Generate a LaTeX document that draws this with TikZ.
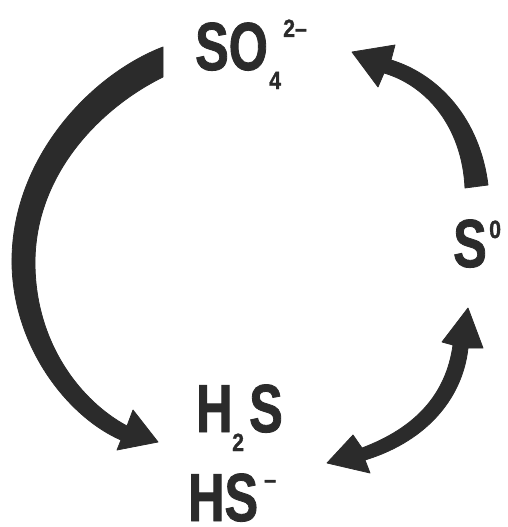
\documentclass[tikz,border=0pt]{standalone}
\usepackage{fontspec}
\newfontfamily\cf[FakeStretch=0.74,FakeBold=1.2]{Liberation Sans Bold}
\newfontfamily\cfs[FakeStretch=0.85,FakeBold=1.2]{Liberation Sans Bold}
\definecolor{ink}{HTML}{2B2B2B}
\begin{document}
\begin{tikzpicture}[x=1pt,y=-1pt,
  big/.style={inner sep=0pt,anchor=base west,text=ink,font=\cf\fontsize{68}{68}\selectfont},
  small/.style={inner sep=0pt,anchor=base west,text=ink,font=\cfs\fontsize{25}{25}\selectfont},
  arrowfill/.style={fill=ink,draw=ink,line width=0.8pt,line join=round}]
\useasboundingbox (0,0) rectangle (507,527);
% texts
\node[big]   (so)   at (195,70)  {SO};
\node[small] (so4)  at (269,89)  {4};
\node[small] (socg) at (283,37)  {2–};
\node[big]   (s0)   at (453,267) {S};
\node[small] (s0c)  at (489,238) {0};
\node[big]   (h2sH) at (196,432) {H};
\node[small] (h2s2) at (232,451) {2};
\node[big]   (h2sS) at (249,432) {S};
\node[big]   (hs)   at (188,521) {HS};
\node[small] (hsm)  at (264,488) {–};
% left arrow: SO4 -> H2S
\fill[arrowfill] (163,47) .. controls (90,75) and (10,160) .. (12,265)
   .. controls (14,350) and (70,418) .. (121,440)
   -- (117,450) -- (158,442) -- (133,410) -- (127,426)
   .. controls (82,402) and (36,345) .. (35,265)
   .. controls (34,175) and (100,108) .. (163,77) -- cycle;
% right upper arrow: S0 -> SO4
\fill[arrowfill] (465,188) -- (488,185)
   .. controls (480,120) and (440,75) .. (391,60)
   -- (395,45) -- (352,52) -- (378,87) -- (384,73)
   .. controls (425,85) and (462,125) .. (465,188) -- cycle;
% double arrow: S0 <-> H2S
\fill[arrowfill] (453,345) -- (442,342) -- (468,308) -- (483,348) -- (468,348)
   .. controls (463,395) and (430,440) .. (365,460)
   -- (370,473) -- (327,463) -- (353,435) -- (362,448)
   .. controls (415,428) and (446,395) .. (453,345) -- cycle;
\end{tikzpicture}
\end{document}
